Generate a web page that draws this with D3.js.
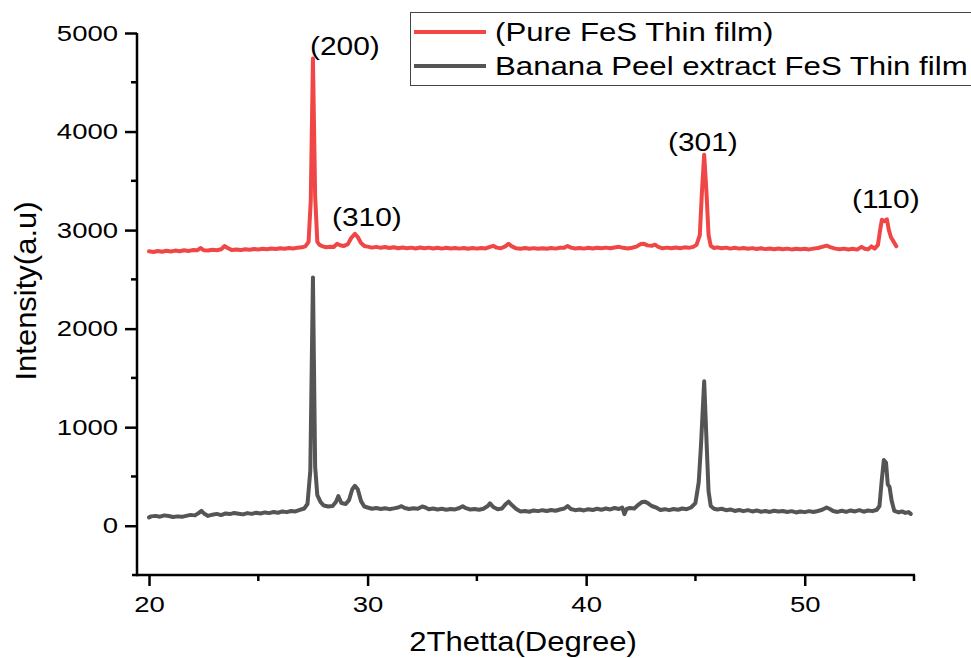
<!DOCTYPE html>
<html><head><meta charset="utf-8">
<script src="https://cdn.jsdelivr.net/npm/d3@7"></script>
<style>
html,body{margin:0;padding:0;background:#fff;}
svg{display:block;font-family:"Liberation Sans",Arial,sans-serif;}
</style></head>
<body><svg id="chart" width="971" height="658"></svg>
<script>
// ---- data ----
const seriesNames = ["(Pure FeS Thin film)", "Banana Peel extract FeS Thin film"];
const seriesColors = ["#F04646", "#555555"];
const xTicks = [20, 30, 40, 50];
const xMinorTicks = [25, 35, 45, 55];
const yTicks = [0, 1000, 2000, 3000, 4000, 5000];
const yMinorTicks = [500, 1500, 2500, 3500, 4500];
const peakLabels = ["(200)", "(310)", "(301)", "(110)"];
const peakLabelAngles = [28.96, 29.97, 45.34, 53.71];
const peakLabelIntensity = [4780, 3040, 3805, 3225];

const pureAngle = [20.0,20.2,20.4,20.6,20.8,21.0,21.2,21.4,21.6,21.8,22.0,22.2,22.35,22.5,22.7,22.9,23.1,23.3,23.45,23.6,23.8,24.0,24.2,24.4,24.6,24.8,25.0,25.2,25.4,25.6,25.8,26.0,26.2,26.4,26.6,26.8,27.0,27.15,27.3,27.4,27.5,27.6,27.7,27.8,27.95,28.1,28.3,28.45,28.6,28.75,28.9,29.1,29.25,29.42,29.55,29.7,29.85,30.0,30.2,30.4,30.6,30.8,31.0,31.2,31.4,31.6,31.8,32.0,32.2,32.4,32.6,32.8,33.0,33.2,33.4,33.6,33.8,34.0,34.2,34.4,34.6,34.8,35.0,35.2,35.4,35.6,35.75,35.9,36.1,36.3,36.45,36.6,36.8,37.0,37.2,37.4,37.6,37.8,38.0,38.2,38.4,38.6,38.8,39.0,39.15,39.3,39.5,39.7,39.9,40.1,40.3,40.5,40.7,40.9,41.1,41.3,41.5,41.7,41.9,42.1,42.3,42.5,42.65,42.8,43.0,43.15,43.3,43.5,43.7,43.9,44.1,44.3,44.5,44.7,44.9,45.05,45.2,45.3,45.4,45.5,45.6,45.7,45.85,46.0,46.2,46.4,46.6,46.8,47.0,47.2,47.4,47.6,47.8,48.0,48.2,48.4,48.6,48.8,49.0,49.2,49.4,49.6,49.8,50.0,50.2,50.4,50.6,50.8,51.0,51.2,51.4,51.6,51.8,52.0,52.2,52.4,52.6,52.75,52.9,53.05,53.2,53.35,53.45,53.53,53.65,53.76,53.85,53.95,54.05,54.19];
const pureIntensity = [2785,2778,2788,2780,2790,2782,2792,2785,2795,2788,2797,2795,2818,2796,2792,2800,2796,2805,2838,2818,2797,2802,2797,2806,2801,2808,2804,2810,2805,2813,2808,2816,2810,2819,2814,2822,2825,2835,2880,3300,4740,3350,2880,2850,2835,2826,2832,2828,2860,2846,2838,2858,2920,2962,2930,2868,2838,2832,2822,2830,2820,2828,2818,2826,2816,2824,2815,2822,2814,2823,2816,2822,2814,2821,2812,2820,2813,2819,2812,2818,2811,2818,2812,2819,2814,2830,2840,2822,2816,2835,2862,2835,2815,2810,2818,2811,2817,2810,2816,2810,2818,2812,2820,2822,2838,2822,2814,2819,2812,2820,2813,2821,2815,2822,2816,2824,2830,2820,2813,2821,2832,2858,2862,2845,2840,2852,2830,2815,2822,2815,2823,2816,2825,2820,2830,2850,2950,3400,3765,3400,2950,2840,2818,2825,2815,2822,2812,2820,2812,2818,2810,2817,2808,2815,2807,2814,2806,2813,2805,2812,2804,2811,2805,2810,2804,2812,2818,2830,2842,2825,2812,2805,2812,2803,2810,2802,2830,2810,2804,2835,2812,2850,3000,3105,3090,3110,3000,2925,2890,2835];

const bananaAngle = [20.0,20.1,20.3,20.5,20.7,20.9,21.1,21.3,21.5,21.7,21.9,22.1,22.25,22.4,22.55,22.7,22.9,23.1,23.3,23.5,23.7,23.9,24.1,24.3,24.5,24.7,24.9,25.1,25.3,25.5,25.7,25.9,26.1,26.3,26.5,26.7,26.9,27.1,27.25,27.38,27.5,27.6,27.7,27.85,28.0,28.2,28.4,28.55,28.66,28.8,29.0,29.15,29.3,29.42,29.55,29.7,29.85,30.0,30.2,30.4,30.6,30.8,31.0,31.2,31.4,31.55,31.7,31.9,32.1,32.3,32.5,32.65,32.8,33.0,33.2,33.4,33.6,33.8,34.0,34.2,34.35,34.5,34.7,34.9,35.1,35.3,35.5,35.6,35.75,35.95,36.15,36.3,36.45,36.6,36.8,37.0,37.2,37.4,37.6,37.8,38.0,38.2,38.4,38.6,38.8,39.0,39.15,39.3,39.5,39.7,39.9,40.1,40.3,40.5,40.7,40.9,41.1,41.3,41.5,41.65,41.75,41.85,42.0,42.2,42.4,42.55,42.7,42.85,43.0,43.2,43.4,43.6,43.8,44.0,44.2,44.4,44.6,44.8,45.0,45.15,45.25,45.4,45.5,45.6,45.7,45.85,46.0,46.2,46.4,46.6,46.8,47.0,47.2,47.4,47.6,47.8,48.0,48.2,48.4,48.6,48.8,49.0,49.2,49.4,49.6,49.8,50.0,50.2,50.4,50.6,50.8,51.0,51.15,51.3,51.5,51.7,51.9,52.1,52.3,52.5,52.7,52.9,53.1,53.3,53.42,53.52,53.62,53.72,53.8,53.88,53.98,54.1,54.3,54.45,54.6,54.75,54.85];
const bananaIntensity = [85,95,100,92,105,98,88,95,90,100,110,105,125,150,118,100,112,120,108,125,118,130,122,115,128,120,132,124,135,128,140,132,145,138,150,145,160,175,220,560,2520,600,310,240,205,195,200,240,300,230,220,260,370,405,370,250,195,185,172,180,170,178,168,176,185,198,180,170,178,172,195,185,168,175,165,172,162,170,165,180,198,178,165,170,162,172,200,228,190,168,175,215,244,210,170,145,150,142,155,148,158,150,160,152,165,175,200,170,158,165,155,168,160,172,162,175,165,180,170,185,118,170,180,175,215,240,244,225,200,185,160,168,158,170,162,175,168,185,230,440,800,1465,900,350,200,172,165,172,158,165,150,160,148,158,145,155,142,150,140,152,145,150,140,148,135,145,138,148,140,150,162,185,170,150,140,152,140,155,145,158,142,155,148,162,200,450,668,640,420,395,250,150,135,145,130,138,120];

// ---- layout ----
const svg = d3.select("#chart");
const x = d3.scaleLinear().domain([19.45, 55]).range([137, 914]);
const y = d3.scaleLinear().domain([-500, 5000]).range([575, 33]);

function stretchedText(g, tx, ty, str, size, anchor, sx, rot) {
  return g.append("text")
    .attr("transform", `translate(${tx},${ty}) scale(${sx},1)` + (rot ? ` rotate(${rot})` : ""))
    .attr("text-anchor", anchor)
    .attr("font-size", size)
    .attr("fill", "#000")
    .text(str);
}

// lines
const line = d3.line().x(d => x(d[0])).y(d => y(d[1])).curve(d3.curveLinear);
const pureData = pureAngle.map((a, i) => [a, pureIntensity[i]]);
const bananaData = bananaAngle.map((a, i) => [a, bananaIntensity[i]]);
[[bananaData, 1], [pureData, 0]].forEach(([data, idx]) => {
  svg.append("path").datum(data)
    .attr("d", line)
    .attr("fill", "none")
    .attr("stroke", seriesColors[idx])
    .attr("stroke-width", 4)
    .attr("stroke-linejoin", "round")
    .attr("stroke-linecap", "round");
});

// axes
const TSX = 1.25;
const axisG = svg.append("g");
const yAxis = d3.axisLeft(y).tickValues(yTicks).tickSize(12).tickPadding(6).tickFormat(d3.format("d"));
const gy = axisG.append("g").attr("transform", "translate(137,0)").call(yAxis);
gy.select(".domain").remove();
gy.selectAll(".tick line").attr("stroke", "#000").attr("stroke-width", 2.5);
gy.selectAll(".tick text").attr("font-size", 22).attr("font-family", "Liberation Sans, Arial, sans-serif")
  .attr("fill", "#000").attr("x", -19 / TSX).attr("transform", `scale(${TSX},1)`);
gy.selectAll(".minor").data(yMinorTicks).enter().append("line")
  .attr("x1", -6).attr("x2", 0).attr("y1", d => y(d)).attr("y2", d => y(d))
  .attr("stroke", "#000").attr("stroke-width", 2.5);

const xAxis = d3.axisBottom(x).tickValues(xTicks).tickSize(11).tickPadding(10).tickFormat(d3.format("d"));
const gx = axisG.append("g").attr("transform", "translate(0,575)").call(xAxis);
gx.select(".domain").remove();
gx.selectAll(".tick line").attr("stroke", "#000").attr("stroke-width", 2.5);
gx.selectAll(".tick text").attr("font-size", 22).attr("font-family", "Liberation Sans, Arial, sans-serif")
  .attr("fill", "#000").attr("transform", `scale(${TSX},1)`);
gx.selectAll(".minor").data(xMinorTicks).enter().append("line")
  .attr("x1", d => x(d)).attr("x2", d => x(d)).attr("y1", 0).attr("y2", 6)
  .attr("stroke", "#000").attr("stroke-width", 2.5);

// axis lines
axisG.append("line").attr("x1", 137).attr("x2", 137).attr("y1", y(5000)).attr("y2", 576.2)
  .attr("stroke", "#000").attr("stroke-width", 2.5);
axisG.append("line").attr("x1", 132).attr("x2", x(55) + 1).attr("y1", 575).attr("y2", 575)
  .attr("stroke", "#000").attr("stroke-width", 2.5);

// axis titles
stretchedText(svg, 523, 651, "2Thetta(Degree)", 27, "middle", 1.15);
stretchedText(svg, 36, 291, "Intensity(a.u)", 31, "middle", 0.95, -90);

// peak labels
peakLabels.forEach((t, i) => {
  stretchedText(svg, x(peakLabelAngles[i]), y(peakLabelIntensity[i]), t, 26, "middle", 1.15);
});

// legend
const lg = svg.append("g");
lg.append("rect").attr("x", 410.5).attr("y", 12.5).attr("width", 600).attr("height", 73)
  .attr("fill", "#fff").attr("stroke", "#444").attr("stroke-width", 1);
seriesNames.forEach((n, i) => {
  const yy = 32 + i * 34;
  lg.append("line").attr("x1", 414).attr("x2", 486).attr("y1", yy).attr("y2", yy)
    .attr("stroke", seriesColors[i]).attr("stroke-width", 4);
  stretchedText(lg, 495, yy + 9, n, 26, "start", 1.2);
});
</script></body></html>
